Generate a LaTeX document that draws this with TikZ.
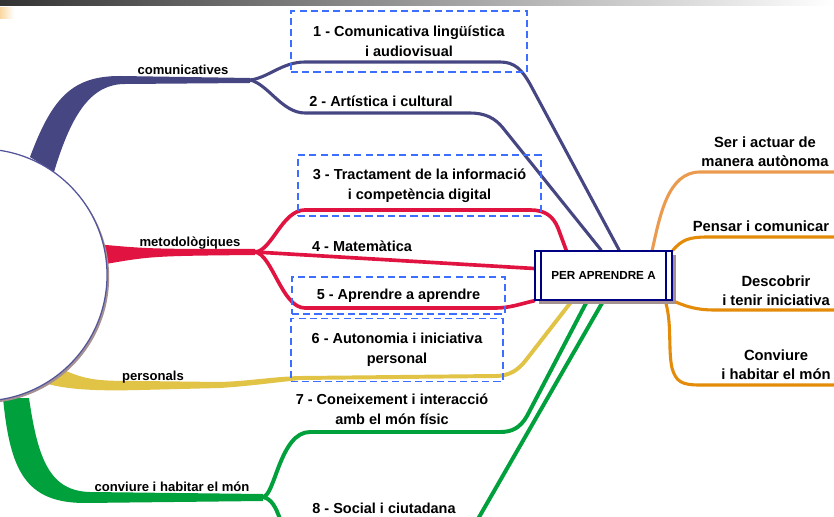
\documentclass[tikz,border=0pt]{standalone}
\usepackage{fontspec}
\setmainfont{Liberation Sans}
\usetikzlibrary{calc,backgrounds,shadows}
\definecolor{comblue}{RGB}{70,70,130}
\definecolor{metred}{RGB}{225,20,65}
\definecolor{persyellow}{RGB}{225,195,70}
\definecolor{convgreen}{RGB}{0,160,60}
\definecolor{outorange}{RGB}{228,140,10}
\definecolor{lightorange}{RGB}{235,155,80}
\definecolor{dashblue}{RGB}{60,110,255}
\definecolor{boxnavy}{RGB}{0,0,130}
\definecolor{shadowgray}{RGB}{165,145,145}
\definecolor{rootline}{RGB}{85,85,155}

\begin{document}
\begin{tikzpicture}[x=0.025cm, y=-0.025cm, font=\bfseries,
    rootnode/.style={circle, draw=rootline, line width=0.9pt, fill=white, minimum size=6.3cm,
        drop shadow={shadow xshift=1.5pt, shadow yshift=-1.5pt, fill=shadowgray, opacity=1}},
    perbox/.style={draw=boxnavy, line width=1.1pt, fill=white, minimum width=3.425cm, minimum height=1.225cm,
        font=\bfseries\fontsize{8.3}{9}\selectfont,
        drop shadow={shadow xshift=2.5pt, shadow yshift=-2.5pt, fill=shadowgray, opacity=1}},
    compbox/.style={draw=dashblue, dash pattern=on 5pt off 3pt, line width=1.3pt, align=center,
        inner sep=0pt, font=\bfseries\fontsize{10.3}{14}\selectfont},
    comp/.style={align=center, font=\bfseries\fontsize{10.3}{14}\selectfont},
    branch label/.style={font=\bfseries\fontsize{9.3}{10}\selectfont},
    out label/.style={align=center, font=\bfseries\fontsize{10.5}{13.5}\selectfont},
    twig/.style={line width=2.2pt, line cap=round}]

    \useasboundingbox (0,0) rectangle (834,517);
    \clip (0,0) rectangle (834,517);

    % header strip
    \shade[left color=black!80, right color=white] (0,0) rectangle (834,6);
    \shade[left color={rgb,255:red,250;green,215;blue,160}, right color=white] (0,8) rectangle (14,19);

    \node[rootnode] at (-19,275) (root) {};
    \node[perbox] at (603.5,275.5) (per) {PER APRENDRE A};
    \draw[boxnavy, line width=1.1pt] ($(per.north west)+(7,0)$) -- ($(per.south west)+(7,0)$);
    \draw[boxnavy, line width=1.1pt] ($(per.north east)+(-7,0)$) -- ($(per.south east)+(-7,0)$);

    \node[compbox, minimum width=5.9cm, minimum height=1.525cm] at (409,41.5) (c1) {1 - Comunicativa lingüística\\i audiovisual};
    \node[comp] at (381,101) (c2) {2 - Artística i cultural};
    \node[compbox, minimum width=6.075cm, minimum height=1.525cm] at (419.5,185.5) (c3) {3 - Tractament de la informació\\i competència digital};
    \node[comp] at (362,246) (c4) {4 - Matemàtica};
    \node[compbox, minimum width=5.325cm, minimum height=0.925cm] at (398.5,295.5) (c5) {5 - Aprendre a aprendre};
    \node[compbox, minimum width=5.3cm, minimum height=1.575cm] at (397,350) (c6) {6 - Autonomia i iniciativa\\personal};
    \node[comp] at (392,409) (c7) {7 - Coneixement i interacció\\amb el món físic};
    \node[comp] at (384,508) (c8) {8 - Social i ciutadana};

    \node[branch label] at (183,70) (lcom) {comunicatives};
    \node[branch label] at (190,243) (lmet) {metodològiques};
    \node[branch label] at (153,377) (lpers) {personals};
    \node[branch label] at (172,487) (lconv) {conviure i habitar el món};

    \node[out label] at (765,152) (r1) {Ser i actuar de\\manera autònoma};
    \node[out label] at (761,226) (r2) {Pensar i comunicar};
    \node[out label] at (776,291) (r3) {Descobrir\\i tenir iniciativa};
    \node[out label] at (776,365) (r4) {Conviure\\i habitar el món};

    \coordinate (scom) at (250,80);
    \coordinate (smet) at (255,252);
    \coordinate (spers) at (300,378);
    \coordinate (sconv) at (263,497);
    \coordinate (o1end) at (840,172);
    \coordinate (o2end) at (840,237);
    \coordinate (o3end) at (840,310);
    \coordinate (o4end) at (840,385);

    \begin{scope}[on background layer]
    % comunicatives
    \fill[comblue] (30,157) .. controls (52,98) and (72,76) .. (120,76) -- ($(scom)+(0,-2)$) -- ($(scom)+(0,3)$)
        -- (125,84) .. controls (92,84) and (72,112) .. (54,172) -- cycle;
    \draw[twig, comblue] (scom) .. controls (268,78) and (282,62) .. (305,62) -- (500,62)
        .. controls (515,62) and (522,70) .. (530,84) -- ($(per.north west)+(85,0)$);
    \draw[twig, comblue] (scom) .. controls (268,84) and (282,113) .. (305,113) -- (470,113)
        .. controls (485,113) and (495,118) .. (503,128) -- ($(per.north west)+(67,0)$);

    % metodologiques
    \fill[metred] (95,244) .. controls (150,249) .. ($(smet)+(0,-3)$) -- ($(smet)+(0,3)$)
        .. controls (150,256) .. (95,266) -- cycle;
    \draw[twig, metred, line width=2.6pt] (smet) .. controls (272,251) and (282,210) .. (305,210) -- (530,210)
        .. controls (545,210) and (553,216) .. (558,228) -- ($(per.north west)+(32,0)$);
    \draw[twig, metred, line width=2.6pt] (smet) -- ($(per.west)+(0,-7)$);
    \draw[twig, metred, line width=2.6pt] (smet) .. controls (272,254) and (282,308) .. (305,308) -- (495,308)
        .. controls (510,308) and (520,304) .. (per.south west);

    % personals
    \fill[persyellow] (58,367) .. controls (85,381) and (100,381) .. (140,381) -- (220,382)
        .. controls (250,381) and (270,377) .. (300,376) -- (300,380) .. controls (270,383) and (250,386) .. (220,388)
        -- (140,390) .. controls (100,391) and (70,390) .. (48,384) -- cycle;
    \draw[twig, persyellow, line width=2.8pt] (spers) -- (495,376) .. controls (510,376) and (518,370) .. (526,360)
        -- ($(per.south west)+(37,1)$);

    % conviure
    \fill[convgreen] (3,398) .. controls (10,470) and (25,503) .. (85,503) -- ($(sconv)+(0,4)$) -- ($(sconv)+(0,-3)$)
        -- (90,492) .. controls (50,491) and (38,460) .. (29,398) -- cycle;
    \draw[twig, convgreen, line width=2.8pt] (sconv) .. controls (275,496) and (280,432) .. (310,432) -- (500,432)
        .. controls (512,432) and (520,428) .. (527,416) -- ($(per.south west)+(52,2)$);
    \draw[twig, convgreen, line width=2.8pt] (sconv) .. controls (272,499) and (276,508) .. (280,519) -- (478,519)
        -- ($(per.south west)+(68,2)$);

    % per aprendre a
    \draw[twig, lightorange] ($(per.north west)+(118,0)$) .. controls (660,215) and (668,172) .. (700,172) -- (o1end);
    \draw[twig, outorange] (per.north east) .. controls (682,240) and (688,237) .. (708,237) -- (o2end);
    \draw[twig, outorange] (per.south east) .. controls (685,306) and (695,310) .. (715,310) -- (o3end);
    \draw[twig, outorange] ($(per.south east)+(-7,2)$) .. controls (672,325) and (668,350) .. (672,368)
        .. controls (676,382) and (682,385) .. (700,385) -- (o4end);
    \end{scope}
\end{tikzpicture}
\end{document}
